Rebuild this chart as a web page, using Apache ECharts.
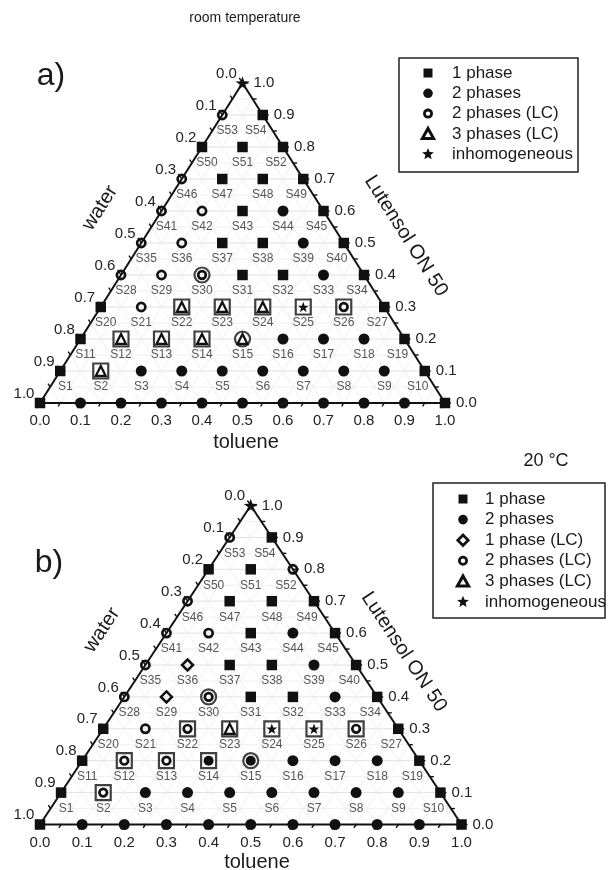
<!DOCTYPE html>
<html>
<head>
<meta charset="utf-8">
<script src="https://cdn.jsdelivr.net/npm/echarts@6/dist/echarts.min.js"></script>
<style>
  html, body { margin: 0; padding: 0; background: #fff; }
  #chart { width: 608px; height: 870px; }
</style>
</head>
<body>
<div id="chart"></div>
<script>
// Phase behaviour of water / toluene / Lutensol ON 50 mixtures.
// Each row is one Lutensol ON 50 fraction (0.0, 0.1 ... 1.0); inside a row the
// samples run from toluene = 0.0 upwards in steps of 0.1.
// Codes: Q = 1 phase, C = 2 phases, D = 1 phase (LC), O = 2 phases (LC),
//        T = 3 phases (LC), S = inhomogeneous.
// A leading 'b' puts the sample in a square frame, a leading 'c' in a ring.
const phasesRoomTemp = [
  ['Q', 'C', 'C', 'C', 'C', 'C', 'C', 'C', 'C', 'C', 'Q'],
  ['Q', 'bT', 'C', 'C', 'C', 'C', 'C', 'C', 'C', 'Q'],
  ['Q', 'bT', 'bT', 'bT', 'cT', 'C', 'C', 'C', 'Q'],
  ['Q', 'O', 'bT', 'bT', 'bT', 'bS', 'bO', 'Q'],
  ['O', 'O', 'cO', 'Q', 'Q', 'C', 'Q'],
  ['O', 'O', 'Q', 'Q', 'C', 'Q'],
  ['O', 'O', 'Q', 'C', 'Q'],
  ['O', 'Q', 'Q', 'Q'],
  ['Q', 'Q', 'Q'],
  ['O', 'Q'],
  ['S']
];

const phases20C = [
  ['Q', 'C', 'C', 'C', 'C', 'C', 'C', 'C', 'C', 'C', 'Q'],
  ['Q', 'bO', 'C', 'C', 'C', 'C', 'C', 'C', 'C', 'Q'],
  ['Q', 'bO', 'bO', 'bC', 'cC', 'C', 'C', 'C', 'Q'],
  ['Q', 'O', 'bO', 'bT', 'bS', 'bS', 'bO', 'Q'],
  ['O', 'D', 'cO', 'Q', 'Q', 'C', 'Q'],
  ['O', 'D', 'Q', 'Q', 'C', 'Q'],
  ['O', 'O', 'Q', 'C', 'Q'],
  ['O', 'Q', 'Q', 'Q'],
  ['Q', 'Q', 'O'],
  ['O', 'Q'],
  ['S']
];

const lutensolLevels = [0.0, 0.1, 0.2, 0.3, 0.4, 0.5, 0.6, 0.7, 0.8, 0.9, 1.0];
const tolueneLevels = [0.0, 0.1, 0.2, 0.3, 0.4, 0.5, 0.6, 0.7, 0.8, 0.9, 1.0];
const tickLabels = ['0.0', '0.1', '0.2', '0.3', '0.4', '0.5', '0.6', '0.7', '0.8', '0.9', '1.0'];

const legendRoomTemp = ['1 phase', '2 phases', '2 phases (LC)', '3 phases (LC)', 'inhomogeneous'];
const legend20C = ['1 phase', '2 phases', '1 phase (LC)', '2 phases (LC)', '3 phases (LC)', 'inhomogeneous'];

// ---------------------------------------------------------------------------
const FONT = "'Liberation Sans', Arial, Helvetica, sans-serif";
const INK = '#111';
const STAR = 'path://M50,0L61.8,33.8L97.6,34.5L69,56.2L79.4,90.5L50,70L20.6,90.5L31,56.2L2.4,34.5L38.2,33.8Z';

const kindName = { Q: '1 phase', C: '2 phases', D: '1 phase (LC)', O: '2 phases (LC)', T: '3 phases (LC)', S: 'inhomogeneous' };
const kindLook = {
  Q: { symbol: 'rect', size: 10.5, inner: 9, fill: INK, line: 0 },
  C: { symbol: 'circle', size: 11, inner: 10, fill: INK, line: 0 },
  O: { symbol: 'circle', size: 8.2, inner: 7.6, fill: 'transparent', line: 2.7 },
  D: { symbol: 'diamond', size: 11, inner: 9, fill: 'transparent', line: 2.5 },
  T: { symbol: 'triangle', size: 10, inner: 10, fill: 'transparent', line: 2.3 },
  S: { symbol: STAR, size: 14, inner: 11, fill: INK, line: 0 }
};

const panels = [
  { rows: phasesRoomTemp, grid: { left: 40, top: 83, width: 405, height: 320 } },
  { rows: phases20C, grid: { left: 40, top: 505.5, width: 421.5, height: 319 } }
];

// ternary (toluene, Lutensol) -> cartesian position inside the triangle
function toCart(t, l) { return [t + l / 2, l]; }

const lineStyles = [
  { color: '#ecdcdc', width: 1 },    // constant Lutensol, every 0.1
  { color: '#f0ebeb', width: 0.8 },  // constant Lutensol, half steps
  { color: '#ebebeb', width: 0.8 },  // constant toluene / water
  { color: INK, width: 2 }           // triangle edges
];

function segmentSeries(gi, segments, z) {
  return {
    type: 'custom', xAxisIndex: gi, yAxisIndex: gi, z: z, clip: false, silent: true,
    data: segments,
    renderItem: function (params, api) {
      const a = api.coord([api.value(0), api.value(1)]);
      const b = api.coord([api.value(2), api.value(3)]);
      const s = lineStyles[api.value(4)];
      return { type: 'line', shape: { x1: a[0], y1: a[1], x2: b[0], y2: b[1] },
               style: { stroke: s.color, lineWidth: s.width } };
    }
  };
}

function latticeSegments() {
  const segs = [];
  for (let k = 1; k < 20; k++) {
    const f = k / 20;
    segs.push([f / 2, f, 1 - f / 2, f, k % 2 === 0 ? 0 : 1]); // Lutensol = f
    segs.push([f, 0, f + (1 - f) / 2, 1 - f, 2]);             // toluene = f
    segs.push([f, 0, f / 2, f, 2]);                           // water = 1 - f
  }
  return segs;
}

const edgeSegments = [[0, 0, 1, 0, 3], [1, 0, 0.5, 1, 3], [0.5, 1, 0, 0, 3]];

function tickSeries(gi, g) {
  const data = [];
  for (let k = 0; k <= 20; k++) {
    const f = k / 20;
    data.push([f, 0, 0, k]);                // toluene along the base
    data.push([1 - f / 2, f, 1, k]);        // Lutensol ON 50 on the right edge
    data.push([(1 - f) / 2, 1 - f, 2, k]);  // water on the left edge
  }
  const n = Math.hypot(g.width / 2, g.height);
  const dirs = [
    [-g.width / 2 / n, g.height / n],
    [1, 0],
    [-g.width / 2 / n, -g.height / n]
  ];
  return {
    type: 'custom', xAxisIndex: gi, yAxisIndex: gi, z: 3, clip: false, silent: true,
    data: data,
    renderItem: function (params, api) {
      const p = api.coord([api.value(0), api.value(1)]);
      const side = api.value(2), k = api.value(3);
      const major = k % 2 === 0;
      const len = major ? 6 : 4;
      const d = dirs[side];
      const children = [{
        type: 'line',
        shape: { x1: p[0], y1: p[1], x2: p[0] + d[0] * len, y2: p[1] + d[1] * len },
        style: { stroke: INK, lineWidth: 1.4 }
      }];
      if (major) {
        const text = tickLabels[k / 2];
        let x = p[0], y = p[1], align = 'center';
        if (side === 0) { y += 18; }
        else if (side === 1) { x += 11; align = 'left'; }
        else { x -= 16; y -= 9.5; }
        children.push({
          type: 'text', x: x, y: y,
          style: { text: text, font: '15px ' + FONT, fill: '#222',
                   align: align, textAlign: align, verticalAlign: 'middle', textVerticalAlign: 'middle' }
        });
      }
      return { type: 'group', children: children };
    }
  };
}

function panelSeries(gi, panel) {
  const byKind = { Q: [], C: [], D: [], O: [], T: [], S: [] };
  const boxes = [], rings = [], ids = [];
  let n = 0;
  panel.rows.forEach(function (row, i) {
    const l = lutensolLevels[i];
    row.forEach(function (code, j) {
      const t = tolueneLevels[j];
      const pos = toCart(t, l);
      const frame = code.length > 1 ? code[0] : '';
      const kind = code[code.length - 1];
      if (frame === 'b') boxes.push(pos);
      if (frame === 'c') rings.push(pos);
      byKind[kind].push(frame ? { value: pos, symbolSize: kindLook[kind].inner } : pos);
      if (i > 0 && i < 10) {
        n += 1;
        const dx = j === 0 ? 5 : (j === row.length - 1 ? -7 : 0);
        ids.push({ name: 'S' + n, value: pos, label: { offset: [dx, 16] } });
      }
    });
  });

  const list = [
    segmentSeries(gi, latticeSegments(), 1),
    segmentSeries(gi, edgeSegments, 2),
    tickSeries(gi, panel.grid),
    {
      type: 'scatter', xAxisIndex: gi, yAxisIndex: gi, z: 4, clip: false, silent: true,
      symbol: 'rect', symbolSize: 15, data: boxes,
      itemStyle: { color: '#fff', borderColor: INK, borderWidth: 2.2 }
    },
    {
      type: 'scatter', xAxisIndex: gi, yAxisIndex: gi, z: 4, clip: false, silent: true,
      symbol: 'circle', symbolSize: 15, data: rings,
      itemStyle: { color: '#fff', borderColor: INK, borderWidth: 2.2 }
    }
  ];
  Object.keys(byKind).forEach(function (kind) {
    if (!byKind[kind].length) return;
    const look = kindLook[kind];
    list.push({
      type: 'scatter', name: kindName[kind], xAxisIndex: gi, yAxisIndex: gi, z: 5,
      clip: false, silent: true, symbol: look.symbol, symbolSize: look.size, symbolKeepAspect: true,
      data: byKind[kind],
      itemStyle: { color: look.fill, borderColor: INK, borderWidth: look.line, opacity: 1 }
    });
  });
  list.push({
    type: 'scatter', xAxisIndex: gi, yAxisIndex: gi, z: 6, clip: false, silent: true,
    symbolSize: 1, data: ids, itemStyle: { color: 'transparent' },
    label: { show: true, position: 'inside', formatter: '{b}', fontSize: 12,
             fontFamily: FONT, color: '#2a2a2a' }
  });
  return list;
}

// ---------------------------------------------------------------------------
function legendIcon(kind, cx, cy) {
  switch (kind) {
    case 'Q': return { type: 'rect', shape: { x: cx - 4.5, y: cy - 4.5, width: 9, height: 9 }, style: { fill: INK } };
    case 'C': return { type: 'circle', shape: { cx: cx, cy: cy, r: 4.8 }, style: { fill: INK } };
    case 'O': return { type: 'circle', shape: { cx: cx, cy: cy, r: 3.6 }, style: { fill: 'none', stroke: INK, lineWidth: 2.8 } };
    case 'D': return { type: 'polygon', shape: { points: [[cx, cy - 5.2], [cx + 5.2, cy], [cx, cy + 5.2], [cx - 5.2, cy]] },
                       style: { fill: 'none', stroke: INK, lineWidth: 2.8 } };
    case 'T': return { type: 'polygon', shape: { points: [[cx, cy - 5.5], [cx + 5.6, cy + 4.5], [cx - 5.6, cy + 4.5]] },
                       style: { fill: 'none', stroke: INK, lineWidth: 3 } };
    default: {
      const pts = [];
      for (let i = 0; i < 10; i++) {
        const a = -Math.PI / 2 + i * Math.PI / 5;
        const r = i % 2 === 0 ? 6.2 : 2.7;
        pts.push([cx + r * Math.cos(a), cy + r * Math.sin(a)]);
      }
      return { type: 'polygon', shape: { points: pts }, style: { fill: INK } };
    }
  }
}

function legendBox(names, box, iconX, textX, firstY, step) {
  const kindOf = {};
  Object.keys(kindName).forEach(function (k) { kindOf[kindName[k]] = k; });
  const els = [{
    type: 'rect', shape: box, style: { fill: '#fff', stroke: '#222', lineWidth: 1.5 }, z: 10
  }];
  names.forEach(function (name, i) {
    const y = firstY + i * step;
    const icon = legendIcon(kindOf[name], iconX, y);
    icon.z = 11;
    els.push(icon);
    els.push({
      type: 'text', x: textX, y: y, z: 11,
      style: { text: name, font: '17px ' + FONT, fill: '#1a1a1a',
               align: 'left', textAlign: 'left', verticalAlign: 'middle', textVerticalAlign: 'middle' }
    });
  });
  return els;
}

function label(text, x, y, size, rotation) {
  return {
    type: 'text', x: x, y: y, rotation: rotation || 0, z: 10,
    style: { text: text, font: size + 'px ' + FONT, fill: '#1a1a1a',
             align: 'center', textAlign: 'center', verticalAlign: 'middle', textVerticalAlign: 'middle' }
  };
}

function edgeAngle(g) { return Math.atan2(g.height, g.width / 2); }

const angA = edgeAngle(panels[0].grid);
const angB = edgeAngle(panels[1].grid);

const graphics = [].concat(
  [
    label('room temperature', 245, 18, 14),
    label('a)', 51, 76, 32),
    label('toluene', 246, 442, 20),
    label('water', 100, 208, 20, angA),
    label('Lutensol ON 50', 406, 236, 20, -angA),
    label('20 °C', 546, 461, 18),
    label('b)', 49, 563, 32),
    label('toluene', 257, 862, 20),
    label('water', 102, 630, 20, angB),
    label('Lutensol ON 50', 404, 652, 20, -angB)
  ],
  legendBox(legendRoomTemp, { x: 399, y: 58, width: 179, height: 114 }, 428, 452, 73, 20.3),
  legendBox(legend20C, { x: 433, y: 483, width: 172, height: 135 }, 463, 485, 499, 20.6)
);

const chart = echarts.init(document.getElementById('chart'), null, { renderer: 'canvas' });
chart.setOption({
  animation: false,
  backgroundColor: '#fff',
  grid: panels.map(function (p) { return Object.assign({ containLabel: false }, p.grid); }),
  xAxis: panels.map(function (p, i) { return { type: 'value', gridIndex: i, min: 0, max: 1, show: false }; }),
  yAxis: panels.map(function (p, i) { return { type: 'value', gridIndex: i, min: 0, max: 1, show: false }; }),
  series: [].concat(panelSeries(0, panels[0]), panelSeries(1, panels[1])),
  graphic: graphics
});
</script>
</body>
</html>
